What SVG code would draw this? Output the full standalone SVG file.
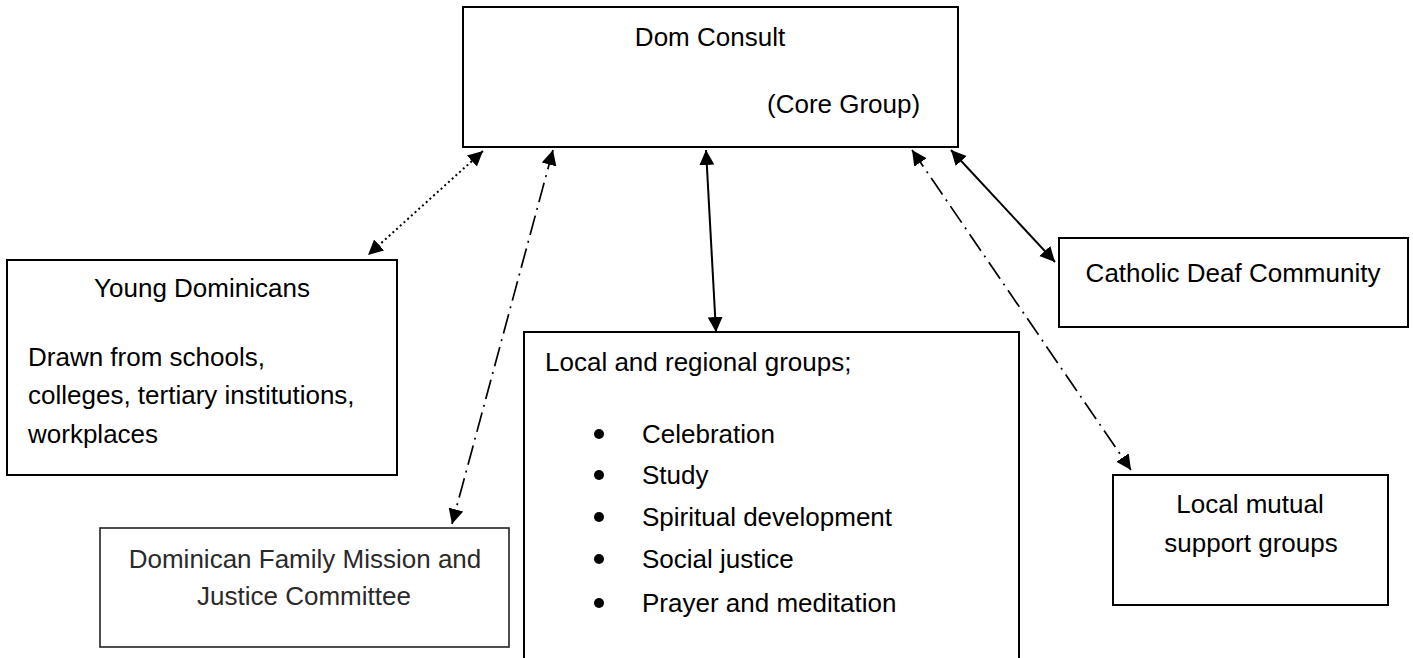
<svg xmlns="http://www.w3.org/2000/svg" width="1413" height="658" viewBox="0 0 1413 658">
<style>
.box{fill:#fff;stroke:#000;stroke-width:2}
.t{font-family:"Liberation Sans",Arial,sans-serif;font-size:26px;fill:#000}
.c{text-anchor:middle}
.thin{fill:#2a2a2a;font-size:26px}
.con{fill:none;stroke:#000}
.solid{stroke-width:2}
.dot{stroke-width:2;stroke-dasharray:2 3}
.dd{stroke-width:1.7;stroke-dasharray:20 6 2 6}
</style>
<defs>
<marker id="ah" markerUnits="userSpaceOnUse" markerWidth="16" markerHeight="16" viewBox="0 0 16 16" refX="15" refY="7.5" orient="auto-start-reverse">
<path d="M0,0 L15,7.5 L0,15 z" fill="#000"/>
</marker>
</defs>
<rect width="1413" height="658" fill="#fff"/>
<g id="connectors">
<line class="con dot" x1="483" y1="151" x2="368" y2="255" marker-start="url(#ah)" marker-end="url(#ah)"/>
<line class="con dd" x1="553" y1="150" x2="452" y2="524" marker-start="url(#ah)" marker-end="url(#ah)"/>
<line class="con solid" x1="706" y1="150" x2="716" y2="332" marker-start="url(#ah)" marker-end="url(#ah)"/>
<line class="con dd" x1="912" y1="150" x2="1131" y2="470" marker-start="url(#ah)" marker-end="url(#ah)"/>
<line class="con solid" x1="951" y1="150" x2="1055" y2="262" marker-start="url(#ah)" marker-end="url(#ah)"/>
</g>
<g id="dom-consult">
<rect class="box" x="463" y="7" width="495" height="140"/>
<text class="t c" x="710" y="46">Dom Consult</text>
<text class="t" x="767" y="113">(Core Group)</text>
</g>
<g id="young-dominicans">
<rect class="box" x="7" y="260" width="390" height="215"/>
<text class="t c" x="202" y="297">Young Dominicans</text>
<text class="t" x="28" y="366">Drawn from schools,</text>
<text class="t" x="28" y="404">colleges, tertiary institutions,</text>
<text class="t" x="28" y="443">workplaces</text>
</g>
<g id="dominican-family">
<rect x="100" y="528" width="409" height="119" fill="#fff" stroke="#222" stroke-width="1.6"/>
<text class="t c thin" x="305" y="568">Dominican Family Mission and</text>
<text class="t c thin" x="304" y="605">Justice Committee</text>
</g>
<g id="local-regional">
<rect class="box" x="524" y="332" width="495" height="340"/>
<text class="t" x="545" y="371">Local and regional groups;</text>
<g>
<circle cx="599" cy="434" r="5"/>
<circle cx="599" cy="475" r="5"/>
<circle cx="599" cy="517" r="5"/>
<circle cx="599" cy="559" r="5"/>
<circle cx="599" cy="603" r="5"/>
</g>
<text class="t" x="642" y="443">Celebration</text>
<text class="t" x="642" y="484">Study</text>
<text class="t" x="642" y="526">Spiritual development</text>
<text class="t" x="642" y="568">Social justice</text>
<text class="t" x="642" y="612">Prayer and meditation</text>
</g>
<g id="catholic-deaf">
<rect class="box" x="1059" y="238" width="349" height="89"/>
<text class="t c" x="1233" y="282">Catholic Deaf Community</text>
</g>
<g id="local-mutual">
<rect class="box" x="1113" y="475" width="275" height="130"/>
<text class="t c" x="1250" y="513">Local mutual</text>
<text class="t c" x="1251" y="552">support groups</text>
</g>
</svg>
